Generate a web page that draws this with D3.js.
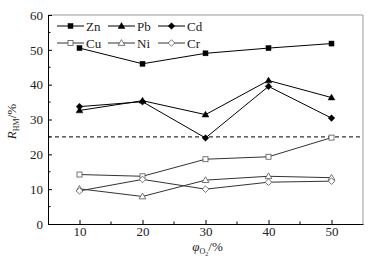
<!DOCTYPE html>
<html>
<head>
<meta charset="utf-8">
<script src="https://cdn.jsdelivr.net/npm/d3@7"></script>
<style>
  html, body { margin: 0; padding: 0; background: #fff; }
  svg { display: block; }
  svg text { font-family: "Liberation Serif", "Times New Roman", "DejaVu Serif", serif; }
</style>
</head>
<body>
<svg id="chart" width="371" height="258"></svg>
<script>
// values
const xValues = [10, 20, 30, 40, 50];
const zn = [50.5, 46.0, 49.0, 50.5, 51.8];
const pb = [32.6, 35.4, 31.4, 41.2, 36.3];
const cd = [33.7, 35.1, 24.7, 39.5, 30.4];
const cu = [14.2, 13.7, 18.6, 19.3, 24.8];
const ni = [10.1, 7.9, 12.6, 13.7, 13.3];
const cr = [9.5, 12.8, 10.0, 12.0, 12.3];
const threshold = 25;
const xTicks = [10, 20, 30, 40, 50];
const yTicks = [0, 10, 20, 30, 40, 50, 60];

const series = [
  { name: 'Zn', values: zn, shape: 'square', filled: true },
  { name: 'Pb', values: pb, shape: 'triangle', filled: true },
  { name: 'Cd', values: cd, shape: 'diamond', filled: true },
  { name: 'Cu', values: cu, shape: 'square', filled: false },
  { name: 'Ni', values: ni, shape: 'triangle', filled: false },
  { name: 'Cr', values: cr, shape: 'diamond', filled: false },
];

const FONT = '"Liberation Serif", "Times New Roman", serif';
const svg = d3.select('#chart').attr('font-family', FONT);
const m = { left: 48, right: 8, top: 15, bottom: 34 };
const W = 371, H = 258;

const x = d3.scaleLinear().domain([5, 55]).range([m.left, W - m.right]);
const y = d3.scaleLinear().domain([0, 60]).range([H - m.bottom, m.top]);

// frame: right/top in grey
svg.append('line').attr('x1', x(5)).attr('x2', x(55)).attr('y1', y(60)).attr('y2', y(60))
  .attr('stroke', '#999').attr('stroke-width', 1);
svg.append('line').attr('x1', x(55)).attr('x2', x(55)).attr('y1', y(60)).attr('y2', y(0))
  .attr('stroke', '#999').attr('stroke-width', 1);

// axes (inward ticks)
const xAxis = svg.append('g').attr('transform', `translate(0,${y(0)})`)
  .call(d3.axisBottom(x).tickValues(xTicks).tickSizeInner(-4).tickSizeOuter(0).tickPadding(3));
xAxis.append('g').selectAll('line').data([15, 25, 35, 45]).join('line')
  .attr('x1', d => x(d)).attr('x2', d => x(d)).attr('y1', 0).attr('y2', -2.5).attr('stroke', '#000');

const yAxis = svg.append('g').attr('transform', `translate(${x(5)},0)`)
  .call(d3.axisLeft(y).tickValues(yTicks).tickSizeInner(-4).tickSizeOuter(0).tickPadding(5));
yAxis.append('g').selectAll('line').data([5, 15, 25, 35, 45, 55]).join('line')
  .attr('y1', d => y(d)).attr('y2', d => y(d)).attr('x1', 0).attr('x2', 2.5).attr('stroke', '#000');

[xAxis, yAxis].forEach(a => {
  a.attr('font-family', FONT).attr('font-size', 13);
  a.select('.domain').attr('stroke', '#000');
  a.selectAll('text').attr('fill', '#222');
});

// dashed threshold
svg.append('line').attr('x1', x(5)).attr('x2', x(55)).attr('y1', y(threshold)).attr('y2', y(threshold))
  .attr('stroke', '#000').attr('stroke-width', 1).attr('stroke-dasharray', '4,3');

function marker(g, shape, filled, cx, cy) {
  const fill = filled ? '#000' : '#fff';
  const stroke = filled ? '#000' : '#555';
  const sw = filled ? 0.5 : 0.8;
  if (shape === 'square') {
    const s = 5;
    g.append('rect').attr('x', cx - s / 2).attr('y', cy - s / 2).attr('width', s).attr('height', s)
      .attr('fill', fill).attr('stroke', stroke).attr('stroke-width', sw);
  } else if (shape === 'triangle') {
    const r = 3.4;
    g.append('path').attr('d', `M${cx},${cy - r}L${cx + r},${cy + r * 0.7}L${cx - r},${cy + r * 0.7}Z`)
      .attr('fill', fill).attr('stroke', stroke).attr('stroke-width', sw);
  } else {
    const r = 3.3;
    g.append('path').attr('d', `M${cx},${cy - r}L${cx + r},${cy}L${cx},${cy + r}L${cx - r},${cy}Z`)
      .attr('fill', fill).attr('stroke', stroke).attr('stroke-width', sw);
  }
}

const line = d3.line().x((d, i) => x(xValues[i])).y(d => y(d));
series.forEach(s => {
  const g = svg.append('g');
  g.append('path').attr('d', line(s.values)).attr('fill', 'none')
    .attr('stroke', s.filled ? '#000' : '#333').attr('stroke-width', 1);
  s.values.forEach((v, i) => marker(g, s.shape, s.filled, x(xValues[i]), y(v)));
});

// legend
const legX = [57, 108, 158];
const legY = [26, 43];
series.forEach((s, i) => {
  const lx = legX[i % 3], ly = legY[Math.floor(i / 3)];
  const g = svg.append('g');
  g.append('line').attr('x1', lx).attr('x2', lx + 27).attr('y1', ly).attr('y2', ly)
    .attr('stroke', s.filled ? '#000' : '#333').attr('stroke-width', 1);
  marker(g, s.shape, s.filled, lx + 13.5, ly);
  g.append('text').attr('x', lx + 29).attr('y', ly + 4.5).attr('font-size', 13).attr('fill', '#222').text(s.name);
});

// y label
const yl = svg.append('text').attr('transform', `translate(16,${(y(0) + y(60)) / 2 + 2}) rotate(-90)`)
  .attr('text-anchor', 'middle').attr('font-size', 13).attr('fill', '#222');
yl.append('tspan').attr('font-style', 'italic').text('R');
yl.append('tspan').attr('font-size', 8).attr('dy', 3).text('HM');
yl.append('tspan').attr('dy', -3).text('/%');

// x label
const xl = svg.append('text').attr('x', (x(5) + x(55)) / 2 + 2).attr('y', 251)
  .attr('text-anchor', 'middle').attr('font-size', 13).attr('fill', '#222');
xl.append('tspan').attr('font-style', 'italic').text('φ');
xl.append('tspan').attr('font-size', 8).attr('dy', 3).text('O');
xl.append('tspan').attr('font-size', 6).attr('dy', 2).text('2');
xl.append('tspan').attr('dy', -5).text('/%');
</script>
</body>
</html>
